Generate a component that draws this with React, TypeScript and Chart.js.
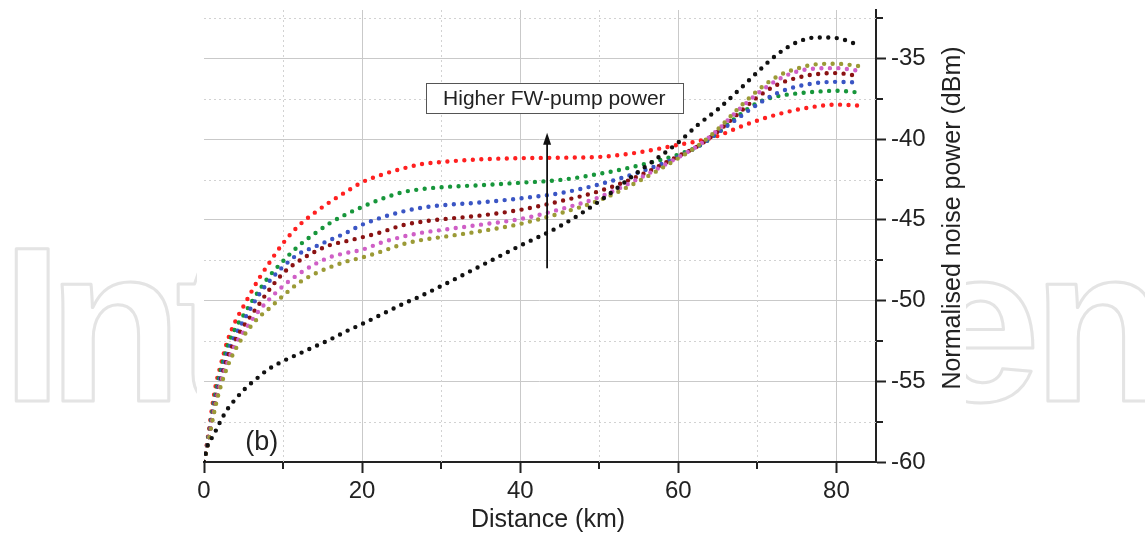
import React, { useEffect, useRef } from 'react';
import { Chart, registerables } from 'chart.js';

Chart.register(...registerables);

// ---------- data ----------
const distanceKm = [0, 0.5, 1, 1.5, 2, 3, 4, 5, 6, 7, 8, 10, 12, 14, 16, 18, 20, 22.5, 25, 27.5, 30, 35, 40, 45, 50, 55, 60, 62.5, 65, 67.5, 70, 72.5, 75, 77.5, 80, 83];

const noiseBlack = [-60, -58.9, -58.5, -58.05, -57.55, -56.7, -56.1, -55.55, -55.1, -54.7, -54.3, -53.75, -53.3, -52.85, -52.4, -51.9, -51.45, -50.85, -50.25, -49.7, -49.1, -47.85, -46.6, -45.4, -43.85, -42.0, -40.2, -39.1, -38.15, -37.03, -35.85, -34.75, -34.0, -33.7, -33.74, -34.2];
const noiseRed = [-60, -58.45, -56.7, -55.2, -54.2, -52.45, -51.25, -50.35, -49.45, -48.6, -47.85, -46.45, -45.35, -44.56, -43.87, -43.25, -42.67, -42.2, -41.84, -41.55, -41.42, -41.25, -41.18, -41.15, -41.1, -40.82, -40.35, -40.12, -39.8, -39.3, -38.85, -38.47, -38.18, -37.97, -37.86, -37.93];
const noiseGreen = [-60, -58.6, -57.0, -55.6, -54.5, -52.8, -51.7, -50.9, -50.1, -49.35, -48.65, -47.55, -46.6, -45.85, -45.18, -44.65, -44.2, -43.7, -43.3, -43.1, -42.98, -42.85, -42.7, -42.53, -42.15, -41.63, -40.95, -40.45, -39.62, -38.58, -37.75, -37.35, -37.17, -37.06, -37.0, -37.12];
const noiseBlue = [-60, -58.7, -57.2, -55.9, -54.85, -53.2, -52.1, -51.25, -50.4, -49.6, -48.95, -47.9, -47.1, -46.67, -46.23, -45.8, -45.3, -44.85, -44.5, -44.25, -44.1, -43.92, -43.67, -43.35, -42.8, -42.05, -41.1, -40.45, -39.6, -38.72, -37.85, -37.15, -36.74, -36.52, -36.45, -36.5];
const noiseMaroon = [-60, -58.8, -57.4, -56.1, -55.1, -53.5, -52.4, -51.6, -50.9, -50.2, -49.5, -48.31, -47.55, -46.98, -46.55, -46.32, -46.08, -45.75, -45.35, -45.12, -44.97, -44.73, -44.38, -43.85, -43.22, -42.28, -41.05, -40.42, -39.52, -38.45, -37.4, -36.63, -36.2, -35.97, -35.91, -36.12];
const noiseMagenta = [-60, -58.85, -57.5, -56.3, -55.3, -53.8, -52.7, -51.95, -51.25, -50.6, -50.05, -49.1, -48.35, -47.75, -47.3, -47.05, -46.85, -46.4, -46.06, -45.8, -45.63, -45.3, -44.95, -44.35, -43.59, -42.44, -41.12, -40.4, -39.42, -38.24, -37.19, -36.34, -35.81, -35.62, -35.6, -35.78];
const noiseOlive = [-60, -58.9, -57.6, -56.45, -55.5, -54.05, -53.0, -52.2, -51.55, -51.0, -50.6, -49.7, -48.9, -48.34, -47.92, -47.58, -47.33, -46.95, -46.53, -46.25, -46.07, -45.7, -45.25, -44.6, -43.79, -42.6, -41.18, -40.4, -39.38, -38.14, -37.0, -36.12, -35.63, -35.36, -35.33, -35.48];

const xMajorTicks = [0, 20, 40, 60, 80];
const xMinorTicks = [10, 30, 50, 70];
const yMajorTicks = [-60, -55, -50, -45, -40, -35];
const yMinorTicks = [-57.5, -52.5, -47.5, -42.5, -37.5, -32.5];

const xTitle = 'Distance (km)';
const yTitle = 'Normalised noise power (dBm)';
const boxLabel = 'Higher FW-pump power';
const panelLabel = '(b)';
const arrowX = 43.4;
const arrowFromY = -48.0;
const arrowToY = -39.6;
const boxXRange = [28.07, 60.56];
const boxYRange = [-38.39, -36.51];
const panelLabelPos = [7.3, -59.25];

// ---------- styling ----------
const FONT = "'Liberation Sans', Arial, Helvetica, sans-serif";
const TEXT = '#222222';

const seriesDefs = [
  { label: 'black', data: noiseBlack, color: '#111111' },
  { label: 'olive', data: noiseOlive, color: '#9b9a36' },
  { label: 'magenta', data: noiseMagenta, color: '#cf5fc6' },
  { label: 'maroon', data: noiseMaroon, color: '#8a1212' },
  { label: 'blue', data: noiseBlue, color: '#3a55c4' },
  { label: 'green', data: noiseGreen, color: '#17963b' },
  { label: 'red', data: noiseRed, color: '#ff2020' },
];

const backgroundPlugin = {
  id: 'bgWatermark',
  beforeDraw(chart: any) {
    const ctx = chart.ctx as CanvasRenderingContext2D;
    ctx.save();
    ctx.fillStyle = '#ffffff';
    ctx.fillRect(0, 0, chart.width, chart.height);
    ctx.beginPath();
    ctx.rect(0, 0, 197, chart.height);
    ctx.rect(966, 0, chart.width - 966, chart.height);
    ctx.clip();
    ctx.font = "bold 221px 'Liberation Sans', Arial, sans-serif";
    ctx.strokeStyle = '#e4e4e4';
    ctx.lineWidth = 3;
    ctx.lineJoin = 'round';
    ctx.textBaseline = 'alphabetic';
    ctx.textAlign = 'left';
    const base = 400.5;
    const leftAt = (ch: string, left: number) => {
      const m = ctx.measureText(ch);
      ctx.strokeText(ch, left + m.actualBoundingBoxLeft + 1.5, base);
    };
    const rightAt = (ch: string, right: number) => {
      const m = ctx.measureText(ch);
      ctx.strokeText(ch, right - m.actualBoundingBoxRight - 1.5, base);
    };
    leftAt('I', 14);
    leftAt('n', 60);
    leftAt('t', 176);
    rightAt('e', 1035);
    leftAt('n', 1045);
    ctx.restore();
  },
};

const minorGridPlugin = {
  id: 'minorGrid',
  beforeDatasetsDraw(chart: any) {
    const ctx = chart.ctx as CanvasRenderingContext2D;
    const a = chart.chartArea;
    const x = chart.scales.x;
    const y = chart.scales.y;
    ctx.save();
    ctx.strokeStyle = '#d2d2d2';
    ctx.lineWidth = 1;
    ctx.setLineDash([2, 3]);
    for (const v of xMinorTicks) {
      const px = Math.round(x.getPixelForValue(v)) + 0.5;
      ctx.beginPath();
      ctx.moveTo(px, a.top);
      ctx.lineTo(px, a.bottom);
      ctx.stroke();
    }
    for (const v of yMinorTicks) {
      const py = Math.round(y.getPixelForValue(v)) + 0.5;
      ctx.beginPath();
      ctx.moveTo(a.left, py);
      ctx.lineTo(a.right, py);
      ctx.stroke();
    }
    ctx.setLineDash([]);
    ctx.strokeStyle = TEXT;
    ctx.lineWidth = 2;
    for (const v of xMinorTicks) {
      const px = Math.round(x.getPixelForValue(v));
      ctx.beginPath();
      ctx.moveTo(px, a.bottom);
      ctx.lineTo(px, a.bottom + 7);
      ctx.stroke();
    }
    for (const v of yMinorTicks) {
      const py = Math.round(y.getPixelForValue(v));
      ctx.beginPath();
      ctx.moveTo(a.right, py);
      ctx.lineTo(a.right + 7, py);
      ctx.stroke();
    }
    ctx.restore();
  },
};

const annotationPlugin = {
  id: 'annotations',
  afterDatasetsDraw(chart: any) {
    const ctx = chart.ctx as CanvasRenderingContext2D;
    const x = chart.scales.x;
    const y = chart.scales.y;
    ctx.save();
    // arrow
    const ax = x.getPixelForValue(arrowX);
    const yb = y.getPixelForValue(arrowFromY);
    const yt = y.getPixelForValue(arrowToY);
    ctx.strokeStyle = '#111';
    ctx.fillStyle = '#111';
    ctx.lineWidth = 1.8;
    ctx.beginPath();
    ctx.moveTo(ax, yb);
    ctx.lineTo(ax, yt + 8);
    ctx.stroke();
    ctx.beginPath();
    ctx.moveTo(ax, yt);
    ctx.lineTo(ax - 4, yt + 12);
    ctx.lineTo(ax + 4, yt + 12);
    ctx.closePath();
    ctx.fill();
    // box
    const bx0 = x.getPixelForValue(boxXRange[0]);
    const bx1 = x.getPixelForValue(boxXRange[1]);
    const by0 = y.getPixelForValue(boxYRange[1]);
    const by1 = y.getPixelForValue(boxYRange[0]);
    ctx.fillStyle = '#fff';
    ctx.fillRect(bx0, by0, bx1 - bx0, by1 - by0);
    ctx.strokeStyle = '#555';
    ctx.lineWidth = 1;
    ctx.strokeRect(Math.round(bx0) + 0.5, Math.round(by0) + 0.5, Math.round(bx1 - bx0), Math.round(by1 - by0));
    ctx.fillStyle = TEXT;
    ctx.font = `21px ${FONT}`;
    ctx.textAlign = 'center';
    ctx.textBaseline = 'middle';
    ctx.fillText(boxLabel, (bx0 + bx1) / 2, (by0 + by1) / 2 + 1);
    // panel label
    ctx.font = `27px ${FONT}`;
    ctx.textBaseline = 'alphabetic';
    ctx.fillText(panelLabel, x.getPixelForValue(panelLabelPos[0]), y.getPixelForValue(panelLabelPos[1]));
    ctx.restore();
  },
};

const titlesPlugin = {
  id: 'axisTitles',
  afterDraw(chart: any) {
    const ctx = chart.ctx as CanvasRenderingContext2D;
    const a = chart.chartArea;
    ctx.save();
    ctx.fillStyle = TEXT;
    ctx.font = `25px ${FONT}`;
    ctx.textAlign = 'center';
    ctx.textBaseline = 'alphabetic';
    ctx.fillText(xTitle, (a.left + a.right) / 2 + 8, a.bottom + 65);
    ctx.translate(a.right + 84, (a.top + a.bottom) / 2 - 18);
    ctx.rotate(-Math.PI / 2);
    ctx.fillText(yTitle, 0, 0);
    ctx.restore();
  },
};

export default function App() {
  const ref = useRef<HTMLCanvasElement>(null);

  useEffect(() => {
    if (!ref.current) return;
    const datasets = seriesDefs.map((s) => ({
      label: s.label,
      data: distanceKm.map((d, i) => ({ x: d, y: s.data[i] })),
      borderColor: s.color,
      backgroundColor: s.color,
      borderWidth: 4.4,
      borderDash: [0, 8.5],
      borderCapStyle: 'round' as const,
      pointRadius: 0,
      fill: false,
      cubicInterpolationMode: 'monotone' as const,
    }));
    const chart = new Chart(ref.current, {
      type: 'line',
      data: { datasets },
      options: {
        animation: false,
        responsive: false,
        devicePixelRatio: 1,
        events: [],
        layout: { padding: { left: 204, top: 10, right: 0, bottom: 0 } },
        plugins: { legend: { display: false }, tooltip: { enabled: false } },
        scales: {
          x: {
            type: 'linear',
            position: 'bottom',
            min: 0,
            max: 85,
            afterBuildTicks: (s: any) => {
              s.ticks = xMajorTicks.map((v) => ({ value: v }));
            },
            afterFit: (s: any) => {
              s.height = 74;
              s.paddingLeft = 0;
              s.paddingRight = 0;
            },
            ticks: {
              autoSkip: false,
              maxRotation: 0,
              padding: 4,
              color: TEXT,
              font: { family: FONT, size: 24 },
            },
            grid: {
              color: (c: any) => (c.tick && c.tick.value === 0 ? 'rgba(0,0,0,0)' : '#c9c9c9'),
              lineWidth: 1,
              tickColor: TEXT,
              tickWidth: 2,
              tickLength: 11,
            },
            border: { display: true, color: TEXT, width: 2 },
          },
          y: {
            type: 'linear',
            position: 'right',
            min: -60,
            max: -32,
            afterBuildTicks: (s: any) => {
              s.ticks = yMajorTicks.map((v) => ({ value: v }));
            },
            afterFit: (s: any) => {
              s.width = 269;
              s.paddingTop = 0;
              s.paddingBottom = 0;
            },
            ticks: {
              autoSkip: false,
              padding: 5,
              color: TEXT,
              font: { family: FONT, size: 24 },
            },
            grid: {
              color: (c: any) => (c.tick && c.tick.value === -60 ? 'rgba(0,0,0,0)' : '#c9c9c9'),
              lineWidth: 1,
              tickColor: TEXT,
              tickWidth: 2,
              tickLength: 10,
            },
            border: { display: true, color: TEXT, width: 2 },
          },
        },
      },
      plugins: [backgroundPlugin, minorGridPlugin, annotationPlugin, titlesPlugin],
    } as any);
    return () => chart.destroy();
  }, []);

  return (
    <div style={{ position: 'fixed', left: 0, top: 0, width: 1145, height: 536, background: '#fff' }}>
      <canvas ref={ref} width={1145} height={536} style={{ display: 'block', width: 1145, height: 536 }} />
    </div>
  );
}
